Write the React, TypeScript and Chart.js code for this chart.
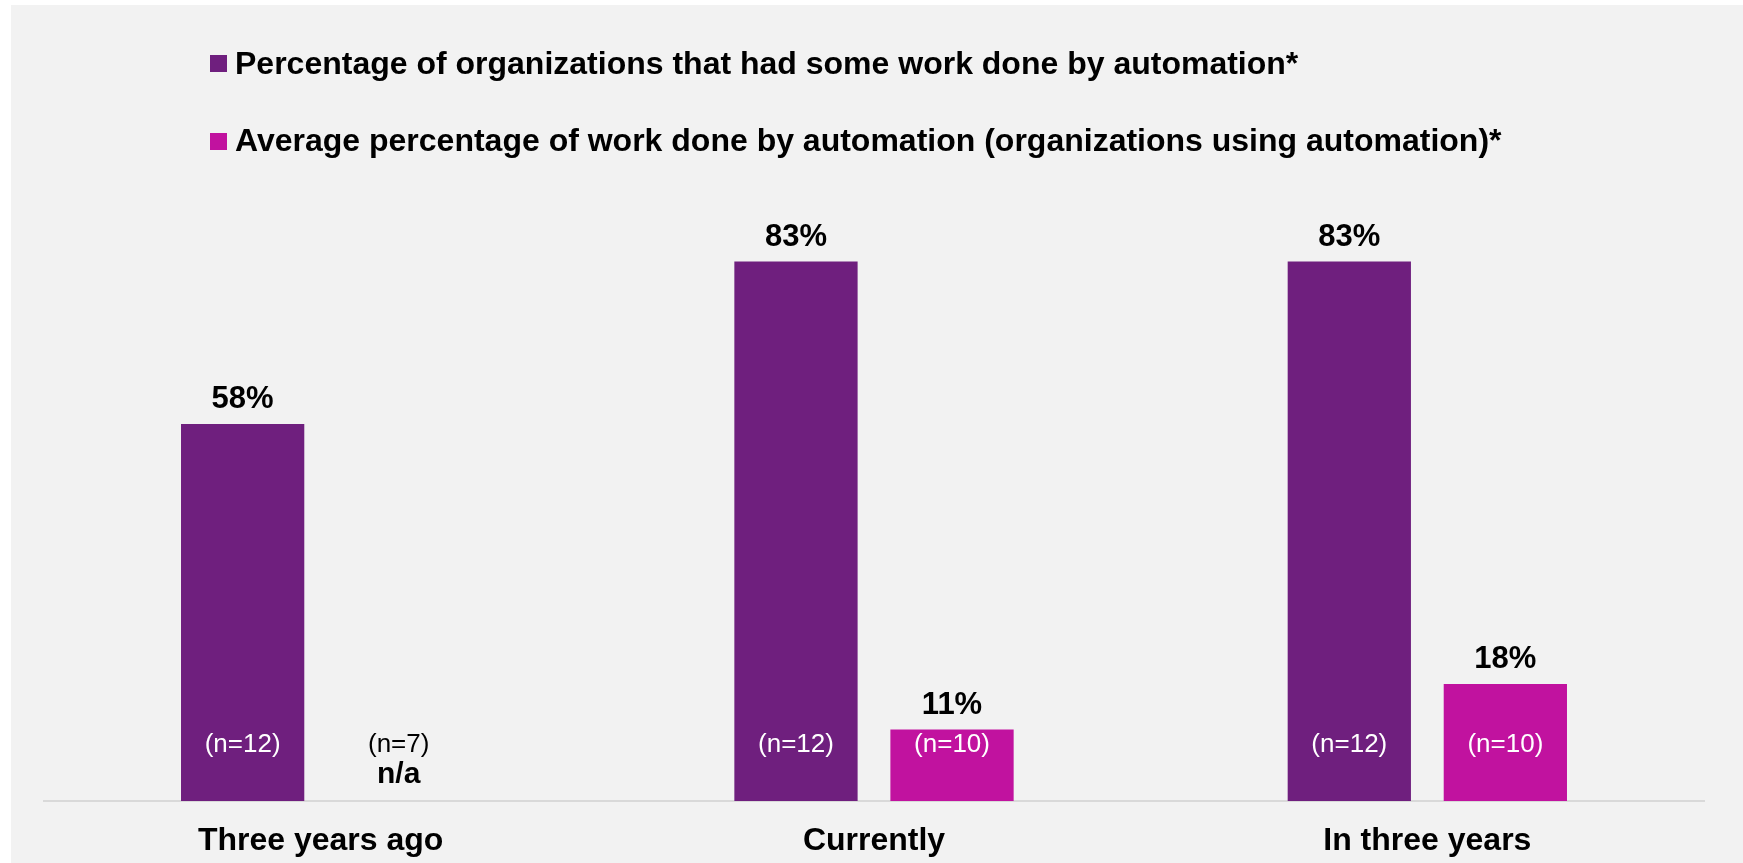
import React, { useEffect, useRef } from "react";
import { Chart, registerables } from "chart.js";

Chart.register(...registerables);

const categories = ["Three years ago", "Currently", "In three years"];
const seriesNames = [
  "Percentage of organizations that had some work done by automation*",
  "Average percentage of work done by automation (organizations using automation)*",
];
const orgsWithAutomation: (number | null)[] = [58, 83, 83];
const avgWorkAutomated: (number | null)[] = [null, 11, 18];
const orgsSampleLabels = ["(n=12)", "(n=12)", "(n=12)"];
const avgSampleLabels = ["(n=7)", "(n=10)", "(n=10)"];
const missingLabel = "n/a";

const PURPLE = "#6f1f7e";
const PINK = "#c1129f";
const FONT = "'Liberation Sans', Arial, Helvetica, sans-serif";

const backgroundPlugin = {
  id: "bgPanel",
  beforeDraw(chart: any) {
    const ctx = chart.ctx;
    ctx.save();
    ctx.fillStyle = "#ffffff";
    ctx.fillRect(0, 0, chart.width, chart.height);
    ctx.fillStyle = "#f2f2f2";
    ctx.fillRect(11, 5, chart.width - 11, chart.height - 5);
    ctx.restore();
  },
};

const legendPlugin = {
  id: "customLegend",
  afterDraw(chart: any) {
    const ctx = chart.ctx;
    ctx.save();
    const rows = [63.5, 141.5];
    const baselines = [73.5, 150.5];
    chart.data.datasets.forEach((ds: any, i: number) => {
      const cy = rows[i];
      ctx.fillStyle = ds.backgroundColor;
      ctx.fillRect(210, cy - 8.5, 17, 17);
      ctx.fillStyle = "#000000";
      ctx.font = `bold 32px ${FONT}`;
      ctx.textAlign = "left";
      ctx.textBaseline = "alphabetic";
      ctx.fillText(ds.label, 235, baselines[i]);
    });
    ctx.restore();
  },
};

const labelsPlugin = {
  id: "barLabels",
  afterDatasetsDraw(chart: any) {
    const ctx = chart.ctx;
    const yScale = chart.scales.y;
    const base = yScale.getPixelForValue(0);
    ctx.save();
    ctx.textAlign = "center";
    chart.data.datasets.forEach((ds: any, di: number) => {
      const meta = chart.getDatasetMeta(di);
      const nLabels = di === 0 ? orgsSampleLabels : avgSampleLabels;
      meta.data.forEach((bar: any, i: number) => {
        const v = ds.data[i];
        const x = bar.x;
        if (v === null || v === undefined) {
          ctx.fillStyle = "#000000";
          ctx.font = `26px ${FONT}`;
          ctx.textBaseline = "middle";
          ctx.fillText(nLabels[i], x, base - 56);
          ctx.font = `bold 30px ${FONT}`;
          ctx.textBaseline = "alphabetic";
          ctx.fillText(missingLabel, x, base - 18);
          return;
        }
        ctx.fillStyle = "#000000";
        ctx.font = `bold 31px ${FONT}`;
        ctx.textBaseline = "alphabetic";
        ctx.fillText(`${v}%`, x, bar.y - 16);
        ctx.fillStyle = "#ffffff";
        ctx.font = `26px ${FONT}`;
        ctx.textBaseline = "middle";
        ctx.fillText(nLabels[i], x, base - 56);
      });
    });
    ctx.restore();
  },
};

export default function App() {
  const canvasRef = useRef<HTMLCanvasElement | null>(null);

  useEffect(() => {
    if (!canvasRef.current) return;
    const chart = new Chart(canvasRef.current, {
      type: "bar",
      data: {
        labels: categories,
        datasets: [
          {
            label: seriesNames[0],
            data: orgsWithAutomation,
            backgroundColor: PURPLE,
            borderWidth: 0,
            categoryPercentage: 0.564,
            barPercentage: 0.79,
          },
          {
            label: seriesNames[1],
            data: avgWorkAutomated,
            backgroundColor: PINK,
            borderWidth: 0,
            categoryPercentage: 0.564,
            barPercentage: 0.79,
          },
        ],
      },
      options: {
        animation: false,
        responsive: false,
        maintainAspectRatio: false,
        devicePixelRatio: 1,
        layout: { padding: { left: 44, right: 39, top: 151, bottom: 0 } },
        plugins: {
          legend: { display: false },
          tooltip: { enabled: false },
          title: { display: false },
        },
        scales: {
          x: {
            grid: { display: false, drawTicks: false },
            border: { display: true, color: "#d9d9d9", width: 2 },
            ticks: {
              color: "#000000",
              font: { family: FONT, size: 32, weight: "bold" },
              padding: 21,
              maxRotation: 0,
            },
            afterFit(scale: any) {
              scale.height = 62;
            },
          },
          y: {
            display: false,
            min: 0,
            max: 100,
          },
        },
      },
      plugins: [backgroundPlugin, labelsPlugin, legendPlugin],
    });
    return () => chart.destroy();
  }, []);

  return (
    <div style={{ position: "absolute", left: 0, top: 0, width: 1743, height: 863 }}>
      <canvas ref={canvasRef} width={1743} height={863} style={{ width: 1743, height: 863, display: "block" }} />
    </div>
  );
}
